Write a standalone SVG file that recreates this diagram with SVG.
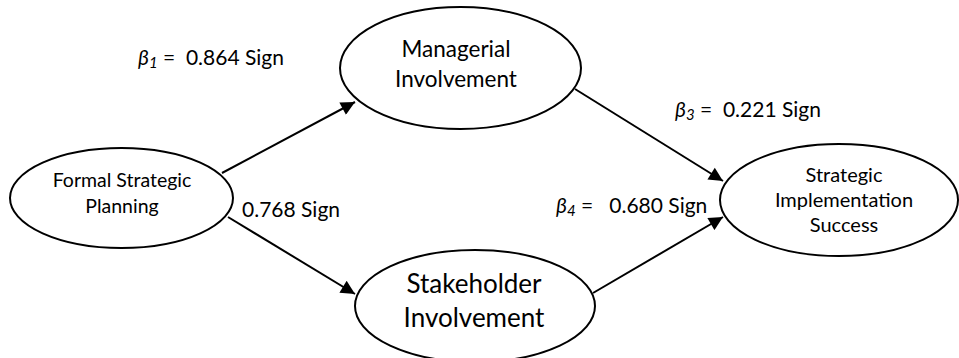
<svg xmlns="http://www.w3.org/2000/svg" width="959" height="358" viewBox="0 0 959 358">
<style>
.node ellipse{fill:#fff;stroke:#000;stroke-width:2}
text{font-family:Lato,"Liberation Sans",sans-serif;fill:#000}
.nl{text-anchor:middle}
.conn line{stroke:#000;stroke-width:2}
.lbl{font-size:21px}
.b{font-style:italic}
</style>
<defs>
<marker id="arr" viewBox="0 0 10 10" refX="10" refY="5" markerWidth="7.5" markerHeight="7" markerUnits="strokeWidth" orient="auto">
<path d="M0,0 L10,5 L0,10 Z" fill="#000"/>
</marker>
</defs>
<rect width="959" height="358" fill="#fff"/>
<g id="connectors" class="conn">
<line x1="222" y1="173" x2="355" y2="102" marker-end="url(#arr)"/>
<line x1="228" y1="217" x2="355" y2="294" marker-end="url(#arr)"/>
<line x1="575" y1="89" x2="723" y2="181" marker-end="url(#arr)"/>
<line x1="593" y1="293" x2="723" y2="217" marker-end="url(#arr)"/>
</g>
<g id="formal" class="node">
<ellipse cx="121.5" cy="198" rx="111.5" ry="50"/>
<text class="nl" x="122" y="187" font-size="19.5">Formal Strategic</text>
<text class="nl" x="122" y="213" font-size="19.5">Planning</text>
</g>
<g id="managerial" class="node">
<ellipse cx="460.5" cy="68" rx="120.5" ry="61"/>
<text class="nl" x="456" y="57" font-size="22.5">Managerial</text>
<text class="nl" x="456" y="87" font-size="22.5">Involvement</text>
</g>
<g id="stakeholder" class="node">
<ellipse cx="475" cy="306" rx="120" ry="56"/>
<text class="nl" x="474" y="293" font-size="26">Stakeholder</text>
<text class="nl" x="474" y="327" font-size="26">Involvement</text>
</g>
<g id="success" class="node">
<ellipse cx="839" cy="200" rx="119" ry="56"/>
<text class="nl" x="844" y="182" font-size="20">Strategic</text>
<text class="nl" x="844" y="207" font-size="20">Implementation</text>
<text class="nl" x="844" y="232" font-size="20">Success</text>
</g>
<g id="labels">
<text class="lbl" x="138" y="65" xml:space="preserve"><tspan class="b">β</tspan><tspan class="b" font-size="15" dy="3">1</tspan><tspan dy="-3"> =  0.864 Sign</tspan></text>
<text class="lbl" x="675" y="117" xml:space="preserve"><tspan class="b">β</tspan><tspan class="b" font-size="15" dy="3">3</tspan><tspan dy="-3"> =  0.221 Sign</tspan></text>
<text class="lbl" x="556" y="213" xml:space="preserve"><tspan class="b">β</tspan><tspan class="b" font-size="15" dy="3">4</tspan><tspan dy="-3"> =   0.680 Sign</tspan></text>
<text class="lbl" x="242" y="217">0.768 Sign</text>
</g>
</svg>
